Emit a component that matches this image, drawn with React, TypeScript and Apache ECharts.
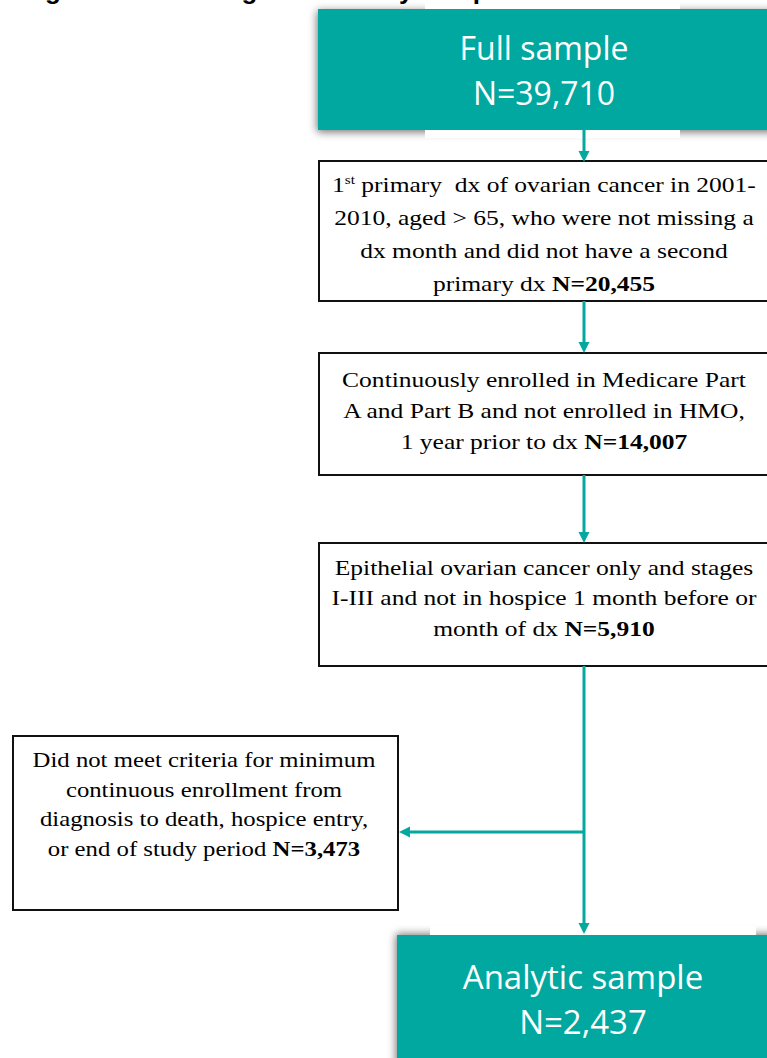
import React, { useEffect, useRef } from 'react';
import * as echarts from 'echarts';

const TEAL = '#05A89F';
const titleText = 'Figure 1. Flow diagram of study sample selection';
const sampleLabels = ['Full sample', 'Analytic sample'];
const sampleCounts = [39710, 2437];
const stepLines = [
  ['1{sup|st} primary  dx of ovarian cancer in 2001-', '2010, aged > 65, who were not missing a', 'dx month and did not have a second', 'primary dx '],
  ['Continuously enrolled in Medicare Part', 'A and Part B and not enrolled in HMO,', '1 year prior to dx '],
  ['Epithelial ovarian cancer only and stages', 'I-III and not in hospice 1 month before or', 'month of dx '],
];
const stepCounts = [20455, 14007, 5910];
const excludedLines = ['Did not meet criteria for minimum', 'continuous enrollment from', 'diagnosis to death, hospice entry,', 'or end of study period '];
const excludedCount = 3473;

const fmt = (n: number) => 'N=' + n.toLocaleString('en-US');

export default function App() {
  const ref = useRef<HTMLDivElement>(null);
  useEffect(() => {
    if (!ref.current) return;
    const chart = echarts.init(ref.current, null, { renderer: 'svg' });
    const cx = 584;
    const FS = 22;
    const SX = 1.16;
    const serifRich = {
      b: { fontWeight: 'bold', fontSize: FS, fontFamily: 'Liberation Serif', fill: '#000' },
      sup: { fontSize: 13, fontFamily: 'Liberation Serif', verticalAlign: 'top', padding: [5, 0, 0, 0], fill: '#000' },
    };
    const stepBoxes = [
      { y: 161, h: 140, ty: 234, lh: 33 },
      { y: 353, h: 122, ty: 411, lh: 31 },
      { y: 543, h: 123, ty: 598, lh: 30.5 },
    ];
    const elements: any[] = [];
    // teal boxes with shadows
    elements.push({ type: 'rect', z: 1, shape: { x: 318, y: 9, width: 470, height: 121 }, style: { fill: TEAL, shadowBlur: 8, shadowColor: 'rgba(0,0,0,0.55)', shadowOffsetX: -1, shadowOffsetY: 2 } });
    elements.push({ type: 'rect', z: 1, shape: { x: 397, y: 935, width: 390, height: 140 }, style: { fill: TEAL, shadowBlur: 8, shadowColor: 'rgba(0,0,0,0.55)', shadowOffsetX: -1, shadowOffsetY: -1 } });
    // white strips
    elements.push({ type: 'rect', z: 2, shape: { x: 425, y: 0, width: 255, height: 9 }, style: { fill: '#fff' } });
    elements.push({ type: 'rect', z: 2, shape: { x: 425, y: 130, width: 255, height: 8 }, style: { fill: '#fff' } });
    elements.push({ type: 'rect', z: 2, shape: { x: 430, y: 926, width: 326, height: 9 }, style: { fill: '#fff' } });
    // title (cut off at the top, as in the reference)
    elements.push({ type: 'text', z: 3, style: { text: titleText, x: 22, y: 3, fontSize: 26, fontWeight: 'bold', fontFamily: 'Liberation Sans', fill: '#000', align: 'left', verticalAlign: 'bottom' } });
    // teal box texts
    elements.push({ type: 'text', z: 3, style: { text: sampleLabels[0] + '\n' + fmt(sampleCounts[0]), x: 544, y: 70, fontSize: 32, fontFamily: 'Open Sans', fill: '#fff', align: 'center', verticalAlign: 'middle', lineHeight: 45 } });
    elements.push({ type: 'text', z: 3, style: { text: sampleLabels[1] + '\n' + fmt(sampleCounts[1]), x: 583, y: 999, fontSize: 33, fontFamily: 'Open Sans', fill: '#fff', align: 'center', verticalAlign: 'middle', lineHeight: 45 } });
    // step boxes
    stepBoxes.forEach((b, i) => {
      elements.push({ type: 'rect', z: 2, shape: { x: 319, y: b.y, width: 470, height: b.h }, style: { fill: '#fff', stroke: '#111', lineWidth: 2 } });
      const lines = stepLines[i].slice();
      lines[lines.length - 1] = lines[lines.length - 1] + '{b|' + fmt(stepCounts[i]) + '}';
      elements.push({ type: 'text', z: 3, x: 544, y: b.ty, scaleX: SX, style: { text: lines.join('\n'), x: 0, y: 0, fontSize: FS, fontFamily: 'Liberation Serif', fill: '#000', align: 'center', verticalAlign: 'middle', lineHeight: b.lh, rich: serifRich } });
    });
    // excluded box
    elements.push({ type: 'rect', z: 2, shape: { x: 13, y: 736, width: 385, height: 174 }, style: { fill: '#fff', stroke: '#111', lineWidth: 2 } });
    const exLines = excludedLines.slice();
    exLines[exLines.length - 1] = exLines[exLines.length - 1] + '{b|' + fmt(excludedCount) + '}';
    elements.push({ type: 'text', z: 3, x: 204, y: 804, scaleX: SX * 0.97, style: { text: exLines.join('\n'), x: 0, y: 0, fontSize: FS, fontFamily: 'Liberation Serif', fill: '#000', align: 'center', verticalAlign: 'middle', lineHeight: 29.5, rich: serifRich } });
    // arrows
    const lineStyle = { stroke: TEAL, lineWidth: 3 };
    const vArrow = (y1: number, y2: number) => {
      elements.push({ type: 'line', z: 4, shape: { x1: cx, y1, x2: cx, y2: y2 - 8 }, style: lineStyle });
      elements.push({ type: 'polygon', z: 4, shape: { points: [[cx - 5.5, y2 - 11], [cx + 5.5, y2 - 11], [cx, y2]] }, style: { fill: TEAL } });
    };
    vArrow(130, 162);
    vArrow(301, 353);
    vArrow(475, 543);
    vArrow(666, 934);
    elements.push({ type: 'line', z: 4, shape: { x1: cx, y1: 832, x2: 407, y2: 832 }, style: lineStyle });
    elements.push({ type: 'polygon', z: 4, shape: { points: [[410, 826.5], [410, 837.5], [399, 832]] }, style: { fill: TEAL } });

    chart.setOption({ animation: false, graphic: { elements } });
    return () => chart.dispose();
  }, []);
  return <div ref={ref} style={{ position: 'fixed', left: 0, top: 0, width: 767, height: 1058, background: '#fff' }} />;
}
